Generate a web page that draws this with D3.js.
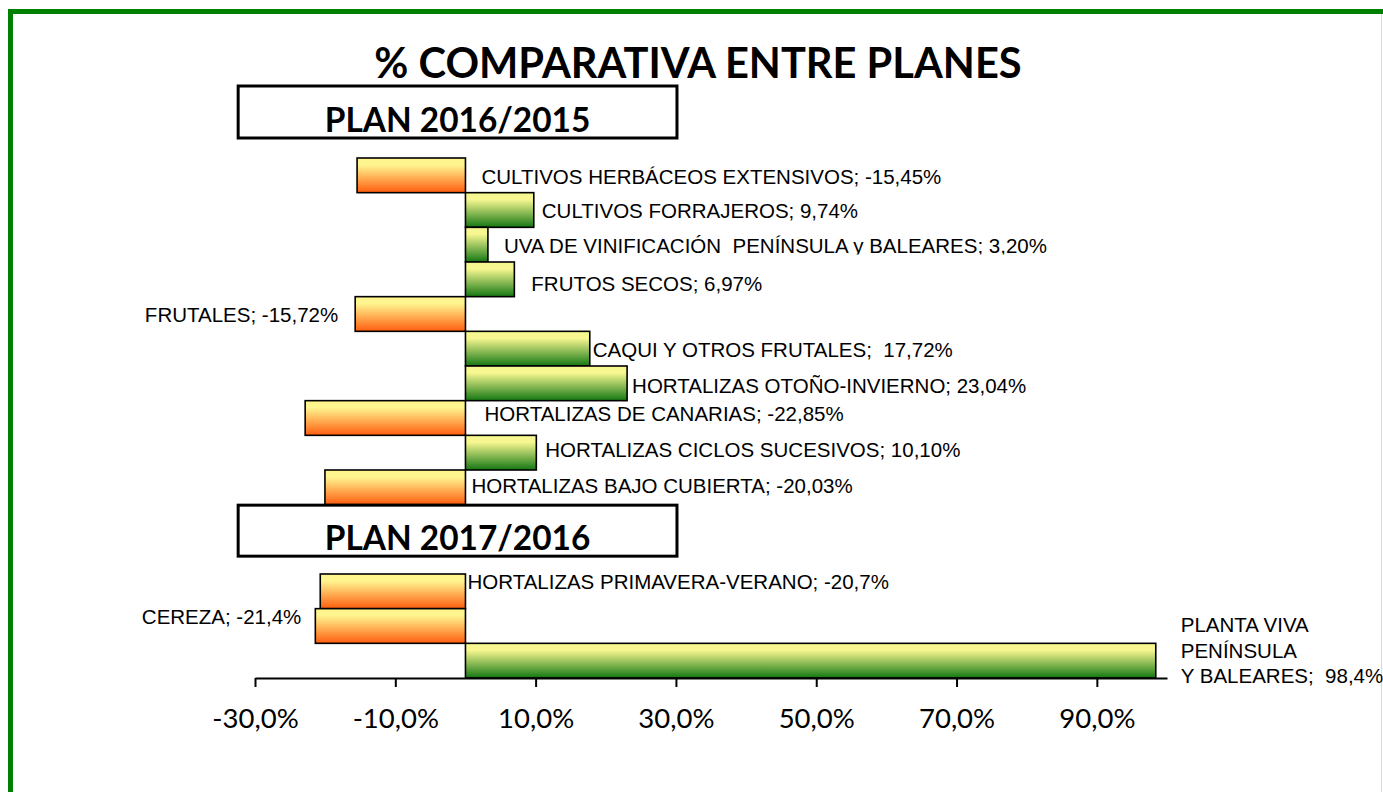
<!DOCTYPE html>
<html>
<head>
<meta charset="utf-8">
<script src="https://cdn.jsdelivr.net/npm/d3@7"></script>
<style>
  html, body { margin: 0; padding: 0; background: #fff; }
  svg { display: block; }
  .lbl, .lbl tspan { white-space: pre; }
</style>
</head>
<body>
<svg id="chart" width="1383" height="792"></svg>
<script>
// ---------- DATA ----------
const categories = [
  "CULTIVOS HERBÁCEOS EXTENSIVOS",
  "CULTIVOS FORRAJEROS",
  "UVA DE VINIFICACIÓN  PENÍNSULA y BALEARES",
  "FRUTOS SECOS",
  "FRUTALES",
  "CAQUI Y OTROS FRUTALES",
  "HORTALIZAS OTOÑO-INVIERNO",
  "HORTALIZAS DE CANARIAS",
  "HORTALIZAS CICLOS SUCESIVOS",
  "HORTALIZAS BAJO CUBIERTA",
  "",
  "",
  "HORTALIZAS PRIMAVERA-VERANO",
  "CEREZA",
  "PLANTA VIVA\nPENÍNSULA\nY BALEARES"
];
const values = [-15.45, 9.74, 3.20, 6.97, -15.72, 17.72, 23.04, -22.85, 10.10, -20.03, null, null, -20.7, -21.4, 98.4];
const decimals = [2, 2, 2, 2, 2, 2, 2, 2, 2, 2, 0, 0, 1, 1, 1];
const tickValues = [-30, -10, 10, 30, 50, 70, 90];
const tickLabels = ["-30,0%", "-10,0%", "10,0%", "30,0%", "50,0%", "70,0%", "90,0%"];
const axisDomain = [-30, 100];
const planTitles = ["PLAN 2016/2015", "PLAN 2017/2016"];
const chartTitle = "% COMPARATIVA ENTRE PLANES";

// ---------- LAYOUT (label placement, not data) ----------
const labelLayout = [
  {anchor: "zero", dx: 16, dy: 1, sep: "; "},
  {anchor: "end", dx: 8, dy: 0.5, sep: "; "},
  {anchor: "end", dx: 16, dy: 1.5, sep: "; ", clip: true},
  {anchor: "end", dx: 17, dy: 4, sep: "; "},
  {anchor: "left", dx: -17, dy: 0.5, sep: "; "},
  {anchor: "end", dx: 3, dy: 1, sep: ";  "},
  {anchor: "end", dx: 5, dy: 2.5, sep: "; "},
  {anchor: "zero", dx: 19, dy: -4.5, sep: "; "},
  {anchor: "end", dx: 9, dy: -3, sep: "; "},
  {anchor: "zero", dx: 6, dy: -2, sep: "; "},
  null, null,
  {anchor: "zero", dx: 2, dy: -10, sep: "; "},
  {anchor: "left", dx: -14, dy: -9.5, sep: "; "},
  {anchor: "end", dx: 25, dy: 15.5, sep: ";  ", multiline: true}
];

const svg = d3.select("#chart");
const W = 1383, H = 792;

// Frame
svg.append("rect").attr("x", 10.5).attr("y", 11.5).attr("width", 1420).attr("height", 900)
  .attr("fill", "none").attr("stroke", "#008000").attr("stroke-width", 5);
svg.append("line").attr("x1", 1381.5).attr("x2", 1381.5).attr("y1", 14).attr("y2", H)
  .attr("stroke", "#c8e6c8").attr("stroke-width", 1);

// Scales
const x = d3.scaleLinear().domain(axisDomain).range([255, 1167]);
const y = d3.scaleBand().domain(d3.range(categories.length)).range([158, 678]).padding(0);

// Gradients
const defs = svg.append("defs");
function grad(id, c0, c1) {
  const g = defs.append("linearGradient").attr("id", id)
    .attr("x1", 0).attr("y1", 0).attr("x2", 0).attr("y2", 1);
  g.append("stop").attr("offset", "0%").attr("stop-color", c0);
  g.append("stop").attr("offset", "20%").attr("stop-color", c0);
  g.append("stop").attr("offset", "100%").attr("stop-color", c1);
}
grad("gNeg", "#fff58f", "#ff5d0e");
grad("gPos", "#f7f791", "#137713");

// Title
svg.append("text").attr("x", 698).attr("y", 78).attr("text-anchor", "middle")
  .attr("font-family", "Lato, 'Open Sans', sans-serif").attr("font-weight", "bold")
  .attr("font-size", 41.6).attr("fill", "#000").text(chartTitle);

// Bars
const idx = d3.range(categories.length).filter(i => values[i] !== null);
svg.append("g").selectAll("rect").data(idx).join("rect")
  .attr("x", i => x(Math.min(0, values[i])))
  .attr("y", i => y(i))
  .attr("width", i => Math.abs(x(values[i]) - x(0)))
  .attr("height", y.bandwidth())
  .attr("fill", i => values[i] < 0 ? "url(#gNeg)" : "url(#gPos)")
  .attr("stroke", "#000").attr("stroke-width", 1.6);

// Axis
const axisY = 678;
const axis = d3.axisBottom(x).tickValues(tickValues).tickSize(9).tickSizeOuter(0)
  .tickFormat((d, i) => tickLabels[i]);
const ga = svg.append("g").attr("transform", `translate(0,${axisY})`).call(axis);
ga.select(".domain").attr("stroke", "#000").attr("stroke-width", 2);
ga.selectAll(".tick line").attr("stroke", "#000").attr("stroke-width", 2);
ga.selectAll(".tick text").attr("font-family", "Lato, 'Open Sans', sans-serif")
  .attr("font-size", 27.5).attr("fill", "#000").attr("dy", 0).attr("y", 50);

// Plan boxes
function planBox(x0, y0, w, h, label) {
  svg.append("rect").attr("x", x0).attr("y", y0).attr("width", w).attr("height", h)
    .attr("fill", "#fff").attr("stroke", "#000").attr("stroke-width", 3);
  svg.append("text").attr("x", x0 + w / 2).attr("y", y0 + h - 6).attr("text-anchor", "middle")
    .attr("font-family", "Lato, 'Open Sans', sans-serif").attr("font-weight", "bold")
    .attr("font-size", 33.4).attr("fill", "#000").text(label);
}
planBox(x(-32.4), 86, x(30.15) - x(-32.4), 52, planTitles[0]);
planBox(x(-32.4), y(10) + 0.5, x(30.15) - x(-32.4), 51, planTitles[1]);

// Labels
const fmt = (v, d) => v.toFixed(d).replace(".", ",") + "%";
defs.append("clipPath").attr("id", "clipUva").append("rect")
  .attr("x", 0).attr("y", 0).attr("width", W).attr("height", y(3) - 7.5);

const lg = svg.append("g").attr("font-family", "'Liberation Sans', Arial, sans-serif")
  .attr("font-size", 20.5).attr("fill", "#000");
idx.forEach(i => {
  const L = labelLayout[i];
  const v = values[i];
  let px, anchor = "start";
  if (L.anchor === "zero") px = x(0) + L.dx;
  else if (L.anchor === "end") px = x(v) + L.dx;
  else { px = x(Math.min(0, v)) + L.dx; anchor = "end"; }
  const cy = y(i) + y.bandwidth() / 2 + L.dy;
  const txt = categories[i] + L.sep + fmt(v, decimals[i]);
  const t = lg.append("text").attr("class", "lbl").attr("x", px).attr("text-anchor", anchor)
    .attr("xml:space", "preserve");
  if (L.clip) t.attr("clip-path", "url(#clipUva)");
  if (L.multiline) {
    const lines = txt.split("\n");
    const lh = 25.5;
    lines.forEach((s, k) => {
      t.append("tspan").attr("x", px).attr("y", cy - (lines.length - 1 - k) * lh).attr("dy", "0.35em").text(s);
    });
  } else {
    t.attr("y", cy).attr("dy", "0.35em").text(txt);
  }
});
</script>
</body>
</html>
